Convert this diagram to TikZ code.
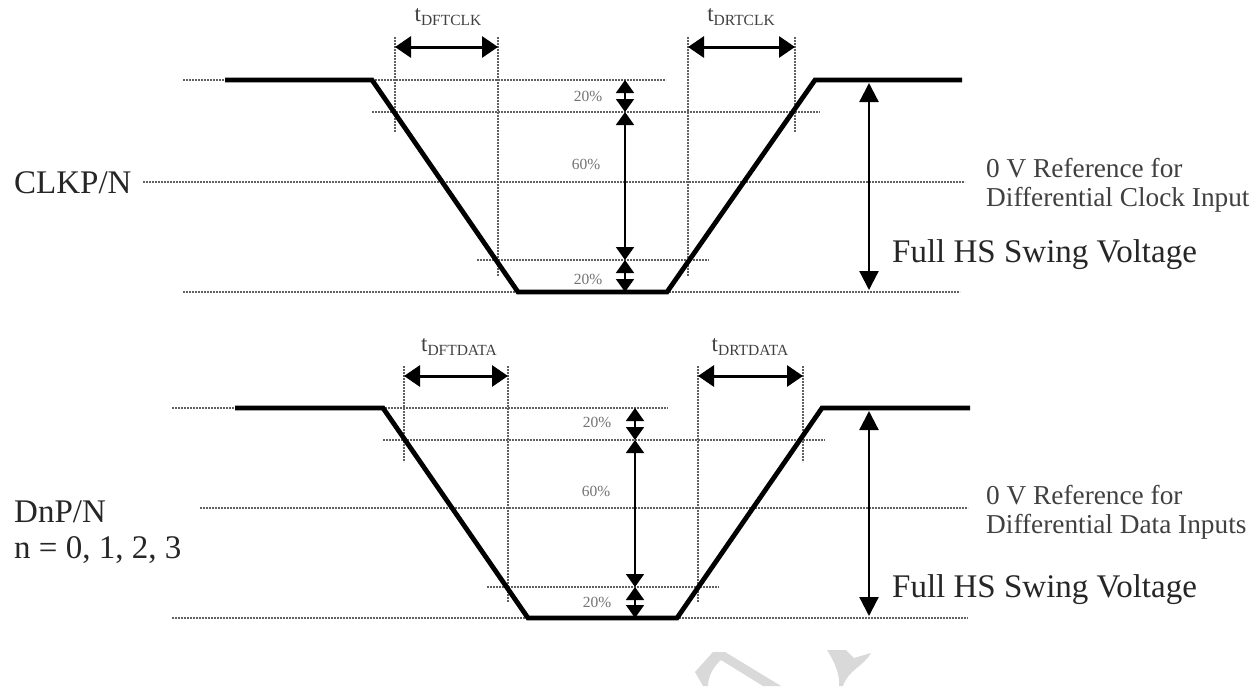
\documentclass[tikz,border=0pt]{standalone}
\usepackage{fontspec}
\setmainfont{Liberation Serif}
\usetikzlibrary{arrows.meta}
\begin{document}
\begin{tikzpicture}[x=1pt,y=-1pt,
  sig/.style={line width=4.8pt,line join=miter,black},
  dots/.style={line width=1.8pt,black!62,dash pattern=on 1.9pt off 1.1pt},
  dim/.style={line width=1.9pt,{Triangle[length=13pt,width=18pt]}-{Triangle[length=13pt,width=18pt]}},
  tdim/.style={line width=3pt,{Triangle[length=16pt,width=21pt]}-{Triangle[length=16pt,width=21pt]}},
  swing/.style={line width=2.3pt,{Triangle[length=19pt,width=19pt]}-{Triangle[length=19pt,width=19pt]}},
  pct/.style={font=\fontsize{15.5}{15.5}\selectfont,text=black!55,inner sep=0pt},
  big/.style={font=\fontsize{33}{36}\selectfont,text=black!85,inner sep=0pt,anchor=west},
  ref/.style={font=\fontsize{27.3}{30}\selectfont,text=black!75,inner sep=0pt,anchor=west},
  tlab/.style={font=\fontsize{23}{23}\selectfont,text=black!75,inner sep=0pt},
  wm/.style={fill=black!15,draw=none}]
\useasboundingbox (0,0) rectangle (1259,686);
\fill[white] (0,0) rectangle (1259,686);
\newcommand{\tl}[1]{t{\fontsize{15.5}{15.5}\selectfont\raisebox{-3.5pt}{#1}}}

% ===== Top panel (CLK) =====
\draw[dots] (183,80) -- (666,80);
\draw[dots] (372,112) -- (820,112);
\draw[dots] (143,182) -- (965,182);
\draw[dots] (477,260) -- (709,260);
\draw[dots] (183,292) -- (960,292);
\draw[dots] (395,37) -- (395,132);
\draw[dots] (498,37) -- (498,276);
\draw[dots] (688,37) -- (688,276);
\draw[dots] (795,37) -- (795,132);
\coordinate (c1) at (225,80); \coordinate (c2) at (372,80);
\coordinate (c3) at (518,292); \coordinate (c4) at (667,292);
\coordinate (c5) at (815,80); \coordinate (c6) at (962,80);
\draw[sig] (c1) -- (c2) -- (c3) -- (c4) -- (c5) -- (c6);
\coordinate (tf1) at (395,47); \coordinate (tf2) at (498,47);
\coordinate (tr1) at (688,47); \coordinate (tr2) at (795,47);
\draw[tdim] (tf1) -- (tf2);
\draw[tdim] (tr1) -- (tr2);
\node[tlab] (tdftclk) at (448,17) {\tl{DFTCLK}};
\node[tlab] (tdrtclk) at (741,17) {\tl{DRTCLK}};
\coordinate (pa) at (625,80); \coordinate (pb) at (625,112);
\coordinate (pc) at (625,260); \coordinate (pd) at (625,292);
\draw[dim] (pa) -- (pb);
\draw[dim] (pb) -- (pc);
\draw[dim] (pc) -- (pd);
\node[pct] (p1) at (588,96) {20\%};
\node[pct] (p2) at (586,164) {60\%};
\node[pct] (p3) at (588,279) {20\%};
\coordinate (s1) at (869,83); \coordinate (s2) at (869,290);
\draw[swing] (s1) -- (s2);
\node[big] (clk) at (14,183) {CLKP/N};
\node[ref] (r1) at (986,168) {0 V Reference for};
\node[ref] (r2) at (986,200) {Differential Clock Input};
\node[big] (fs1) at (892,255) {Full HS Swing Voltage};

% ===== Bottom panel (DATA) =====
\draw[dots] (172,408) -- (668,408);
\draw[dots] (383,440) -- (825,440);
\draw[dots] (200,508) -- (968,508);
\draw[dots] (487,587) -- (719,587);
\draw[dots] (172,618) -- (968,618);
\draw[dots] (404,366) -- (404,462);
\draw[dots] (508,366) -- (508,602);
\draw[dots] (698,366) -- (698,602);
\draw[dots] (803,366) -- (803,462);
\coordinate (d1) at (235,408); \coordinate (d2) at (383,408);
\coordinate (d3) at (528,618); \coordinate (d4) at (677,618);
\coordinate (d5) at (822,408); \coordinate (d6) at (970,408);
\draw[sig] (d1) -- (d2) -- (d3) -- (d4) -- (d5) -- (d6);
\coordinate (uf1) at (404,376); \coordinate (uf2) at (508,376);
\coordinate (ur1) at (698,376); \coordinate (ur2) at (803,376);
\draw[tdim] (uf1) -- (uf2);
\draw[tdim] (ur1) -- (ur2);
\node[tlab] (tdftdata) at (459,347) {\tl{DFTDATA}};
\node[tlab] (tdrtdata) at (750,347) {\tl{DRTDATA}};
\coordinate (qa) at (635,408); \coordinate (qb) at (635,440);
\coordinate (qc) at (635,587); \coordinate (qd) at (635,618);
\draw[dim] (qa) -- (qb);
\draw[dim] (qb) -- (qc);
\draw[dim] (qc) -- (qd);
\node[pct] (q1) at (597,422) {20\%};
\node[pct] (q2) at (596,491) {60\%};
\node[pct] (q3) at (597,602) {20\%};
\coordinate (t1) at (869,411); \coordinate (t2) at (869,616);
\draw[swing] (t1) -- (t2);
\node[big] (dnp) at (14,512) {DnP/N};
\node[big] (nval) at (14,550) {n = 0, 1, 2, 3};
\node[ref] (r3) at (986,495) {0 V Reference for};
\node[ref] (r4) at (986,527) {Differential Data Inputs};
\node[big] (fs2) at (892,590) {Full HS Swing Voltage};

% faint watermark fragments
\fill[wm] (695,672) -- (713,652) -- (725,652) -- (781,686) -- (763,686)
  -- (721,660) .. controls (712,668) and (708,678) .. (708,686) -- (703,686) -- cycle;
\fill[wm] (827,650) -- (846,650) -- (854,658) -- (871,653)
  .. controls (864,666) and (848,670) .. (843,686) -- (839,686)
  .. controls (840,676) and (836,664) .. cycle;
\end{tikzpicture}
\end{document}
